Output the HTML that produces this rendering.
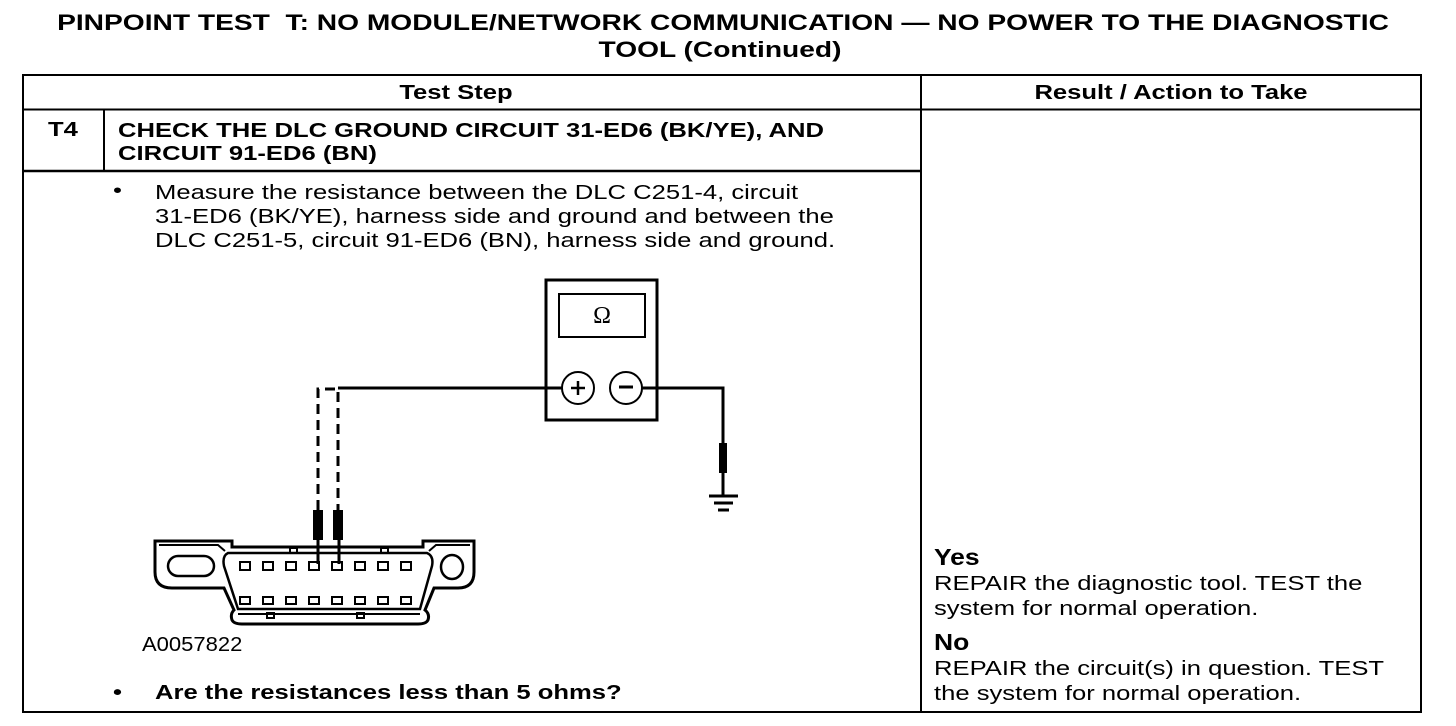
<!DOCTYPE html>
<html><head><meta charset="utf-8"><style>
body{margin:0;width:1456px;height:726px;background:#fff;position:relative;overflow:hidden;font-family:"Liberation Sans",Arial,sans-serif;color:#000}
.t{position:absolute;white-space:nowrap;line-height:1;transform:scaleX(1.28);transform-origin:0 0}
.c{transform-origin:50% 0}
.b{font-weight:bold}
</style></head><body>
<svg width="1456" height="726" style="position:absolute;left:0;top:0" fill="none" stroke="#000">
<rect x="23" y="75" width="1398" height="637" stroke-width="2"/>
<line x1="921" y1="75" x2="921" y2="712" stroke-width="2"/>
<line x1="23" y1="109.5" x2="1421" y2="109.5" stroke-width="2"/>
<line x1="23" y1="171" x2="921" y2="171" stroke-width="2.5"/>
<line x1="104" y1="109" x2="104" y2="171" stroke-width="2"/>
<rect x="546" y="280" width="111" height="140" stroke-width="3"/>
<rect x="559" y="294" width="86" height="43" stroke-width="2"/>
<circle cx="578" cy="388" r="16" stroke-width="2"/>
<circle cx="626" cy="388" r="16" stroke-width="2"/>
<line x1="571" y1="388" x2="585" y2="388" stroke-width="2.5"/>
<line x1="578" y1="381" x2="578" y2="395" stroke-width="2.5"/>
<line x1="619" y1="387" x2="633" y2="387" stroke-width="3"/>
<polyline points="338,388 562,388" stroke-width="3"/>
<polyline points="642,388 723,388 723,445" stroke-width="3"/>
<rect x="719" y="443" width="8" height="30" fill="#000" stroke="none"/>
<line x1="723" y1="473" x2="723" y2="495" stroke-width="3"/>
<line x1="709" y1="496" x2="738" y2="496" stroke-width="3"/>
<line x1="714" y1="503" x2="733" y2="503" stroke-width="3"/>
<line x1="718" y1="510" x2="729" y2="510" stroke-width="3"/>
<polyline points="318,510 318,389 338,389 338,510" stroke-width="3" stroke-dasharray="10,6"/>
<rect x="313" y="510" width="10" height="30" fill="#000" stroke="none"/>
<rect x="333" y="510" width="10" height="30" fill="#000" stroke="none"/>
<line x1="318" y1="540" x2="318" y2="564" stroke-width="3"/>
<line x1="339" y1="540" x2="339" y2="564" stroke-width="3"/>
<!-- connector -->
<path d="M155,541 H232 V547 H423 V541 H474 V572 Q474,588 458,588 H434 L425,610 Q430,614 428,620 Q426,624 418,624 H242 Q234,624 232,620 Q230,614 234,610 L224,588 H172 Q155,588 155,572 Z" stroke-width="3"/>
<path d="M159,545 H218 L225,551" stroke-width="2"/>
<path d="M470,545 H436 L429,551" stroke-width="2"/>
<path d="M228,553 Q222,556 224,566 L238,609 H420 L432,566 Q434,556 427,553 Z" stroke-width="2.5"/>
<line x1="238" y1="614" x2="420" y2="614" stroke-width="2"/>
<rect x="168" y="556" width="46" height="20" rx="10" stroke-width="2.5"/>
<ellipse cx="452" cy="567" rx="11" ry="12" stroke-width="2.5"/>
<g stroke-width="2">
<rect x="290" y="548" width="7" height="5"/><rect x="381" y="548" width="7" height="5"/>
<rect x="267" y="613" width="7" height="5"/><rect x="357" y="613" width="7" height="5"/>
<rect x="240" y="562" width="10" height="8"/><rect x="263" y="562" width="10" height="8"/><rect x="286" y="562" width="10" height="8"/><rect x="309" y="562" width="10" height="8"/><rect x="332" y="562" width="10" height="8"/><rect x="355" y="562" width="10" height="8"/><rect x="378" y="562" width="10" height="8"/><rect x="401" y="562" width="10" height="8"/>
<rect x="240" y="597" width="10" height="7"/><rect x="263" y="597" width="10" height="7"/><rect x="286" y="597" width="10" height="7"/><rect x="309" y="597" width="10" height="7"/><rect x="332" y="597" width="10" height="7"/><rect x="355" y="597" width="10" height="7"/><rect x="378" y="597" width="10" height="7"/><rect x="401" y="597" width="10" height="7"/>
</g>
<text x="602" y="323" font-family="Liberation Serif,serif" font-size="24" fill="#000" stroke="none" text-anchor="middle">Ω</text>
</svg>
<div class="t b c" style="left:0;width:1446px;text-align:center;top:12px;font-size:22px">PINPOINT TEST&nbsp; T: NO MODULE/NETWORK COMMUNICATION — NO POWER TO THE DIAGNOSTIC</div>
<div class="t b c" style="left:0;width:1440px;text-align:center;top:39px;font-size:22px">TOOL (Continued)</div>
<div class="t b c" style="left:23px;width:866px;text-align:center;top:83px;font-size:20px">Test Step</div>
<div class="t b c" style="left:921px;width:500px;text-align:center;top:83px;font-size:20px">Result / Action to Take</div>
<div class="t b" style="left:48px;top:120px;font-size:20px">T4</div>
<div class="t b" style="left:118px;top:120px;font-size:20px;line-height:23px">CHECK THE DLC GROUND CIRCUIT 31-ED6 (BK/YE), AND<br>CIRCUIT 91-ED6 (BN)</div>
<div class="t" style="left:113px;top:181px;font-size:20px">•</div>
<div class="t" style="left:155px;top:181px;font-size:20px;line-height:24px">Measure the resistance between the DLC C251-4, circuit<br>31-ED6 (BK/YE), harness side and ground and between the<br>DLC C251-5, circuit 91-ED6 (BN), harness side and ground.</div>
<div class="t" style="left:142px;top:635px;font-size:20px;transform:scaleX(1.1)">A0057822</div>
<div class="t b" style="left:113px;top:683px;font-size:20px">•</div>
<div class="t b" style="left:155px;top:683px;font-size:20px">Are the resistances less than 5 ohms?</div>
<div class="t b" style="left:934px;top:546px;font-size:23px;transform:scaleX(1.15)">Yes</div>
<div class="t" style="left:934px;top:572px;font-size:20px;line-height:25px">REPAIR the diagnostic tool. TEST the<br>system for normal operation.</div>
<div class="t b" style="left:934px;top:631px;font-size:23px;transform:scaleX(1.15)">No</div>
<div class="t" style="left:934px;top:657px;font-size:20px;line-height:25px">REPAIR the circuit(s) in question. TEST<br>the system for normal operation.</div>
</body></html>
